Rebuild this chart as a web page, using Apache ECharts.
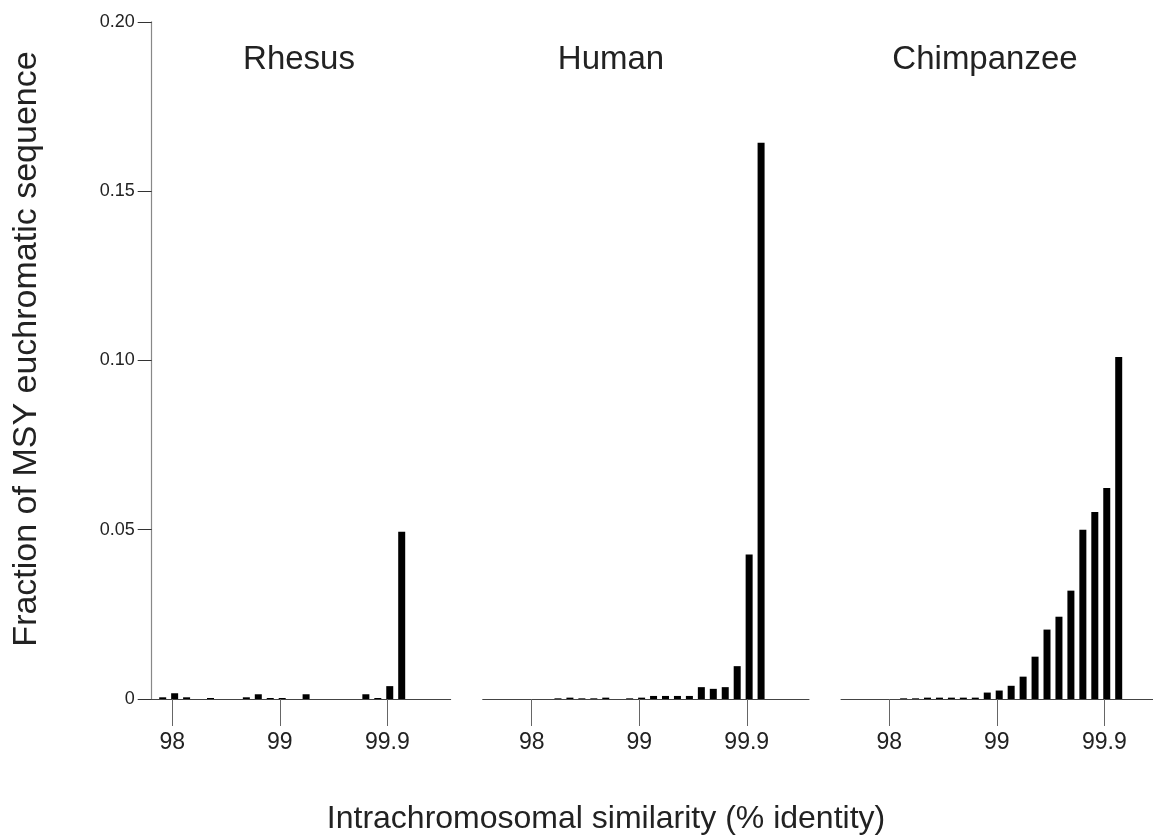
<!DOCTYPE html>
<html>
<head>
<meta charset="utf-8">
<script src="https://cdn.jsdelivr.net/npm/echarts@6/dist/echarts.min.js"></script>
<style>
  html, body { margin: 0; padding: 0; background: #fff; }
  #chart { width: 1153px; height: 836px; }
</style>
</head>
<body>
<div id="chart"></div>
<script>
  // bins (0..23), fraction of MSY euchromatic sequence per bin
  const bins = [0, 1, 2, 3, 4, 5, 6, 7, 8, 9, 10, 11, 12, 13, 14, 15, 16, 17, 18, 19, 20, 21, 22, 23]
  const rhesusValues = [0, 0, 0, 0.0005, 0.0017, 0.0005, 0, 0.0003, 0, 0, 0.0005, 0.0014,
    0.0003, 0.0003, 0, 0.0014, 0, 0, 0, 0, 0.0014, 0.0003, 0.0038, 0.0494]
  const humanValues = [0, 0, 0, 0, 0, 0, 0.0002, 0.0004, 0.0002, 0.0002, 0.0004, 0,
    0.0002, 0.0004, 0.0009, 0.0009, 0.0009, 0.0009, 0.0035, 0.003, 0.0035, 0.0097, 0.0427, 0.1643]
  const chimpValues = [0, 0, 0, 0, 0, 0.0002, 0.0002, 0.0004, 0.0004, 0.0004, 0.0004, 0.0004,
    0.0019, 0.0025, 0.0039, 0.0066, 0.0125, 0.0205, 0.0243, 0.032, 0.05, 0.0552, 0.0623, 0.101]
  const species = ['Rhesus', 'Human', 'Chimpanzee']

  // x tick labels and where they sit on the bin scale
  const xTickLabels = ['98', '99', '99.9']
  const xTickBins = [3.8, 12.8, 21.8]

  const font = 'Liberation Sans, Arial, Helvetica, sans-serif'

  // layout of the three panels
  const panels = [
    {left: 151.7, width: 299, min: 2.08, max: 27.1, titleX: 299, values: rhesusValues, showY: true},
    {left: 482.7, width: 326.3, min: -0.3, max: 27.01, titleX: 611, values: humanValues, showY: false},
    {left: 841, width: 312, min: -0.24, max: 25.87, titleX: 985, values: chimpValues, showY: false}
  ]

  const grid = []
  const xAxis = []
  const yAxis = []
  const series = []
  const graphic = []

  panels.forEach((p, i) => {
    grid.push({left: p.left, width: p.width, top: 21.8, bottom: 137, containLabel: false})
    xAxis.push({
      type: 'value',
      gridIndex: i,
      min: p.min,
      max: p.max,
      splitLine: {show: false},
      axisLine: {show: true, lineStyle: {color: '#444', width: 1}},
      axisTick: {
        show: true,
        customValues: xTickBins,
        length: 27,
        lineStyle: {color: '#666', width: 1}
      },
      axisLabel: {
        show: true,
        customValues: xTickBins,
        margin: 32,
        fontSize: 23,
        fontFamily: font,
        color: '#222',
        formatter: v => xTickLabels[xTickBins.indexOf(v)]
      }
    })
    yAxis.push({
      type: 'value',
      gridIndex: i,
      min: 0,
      max: 0.2,
      interval: 0.05,
      show: p.showY,
      splitLine: {show: false},
      axisLine: {show: p.showY, lineStyle: {color: '#888', width: 1.2}},
      axisTick: {show: p.showY, length: 14, lineStyle: {color: '#333', width: 1}},
      axisLabel: {
        show: p.showY,
        margin: 17,
        fontSize: 18,
        fontFamily: font,
        color: '#222',
        formatter: v => v === 0 ? '0' : v.toFixed(2)
      }
    })
    series.push({
      name: species[i],
      type: 'bar',
      xAxisIndex: i,
      yAxisIndex: i,
      barWidth: 7,
      itemStyle: {color: '#000'},
      silent: true,
      data: bins.map(b => [b, p.values[b]])
    })
    graphic.push({
      type: 'text',
      x: p.titleX,
      y: 60,
      style: {
        text: species[i],
        fontSize: 33,
        fontFamily: font,
        fill: '#222',
        align: 'center',
        verticalAlign: 'middle'
      }
    })
  })

  graphic.push({
    type: 'text',
    x: 27,
    y: 349,
    rotation: Math.PI / 2,
    style: {
      text: 'Fraction of MSY euchromatic sequence',
      fontSize: 34,
      fontFamily: font,
      fill: '#222',
      align: 'center',
      verticalAlign: 'middle'
    }
  })
  graphic.push({
    type: 'text',
    x: 606,
    y: 819,
    style: {
      text: 'Intrachromosomal similarity (% identity)',
      fontSize: 32,
      fontFamily: font,
      fill: '#222',
      align: 'center',
      verticalAlign: 'middle'
    }
  })

  const option = {
    backgroundColor: '#fff',
    animation: false,
    grid: grid,
    xAxis: xAxis,
    yAxis: yAxis,
    series: series,
    graphic: graphic
  }

  let chart = echarts.init(document.getElementById('chart'), null, {renderer: 'canvas'})
  chart.setOption(option)
</script>
</body>
</html>
